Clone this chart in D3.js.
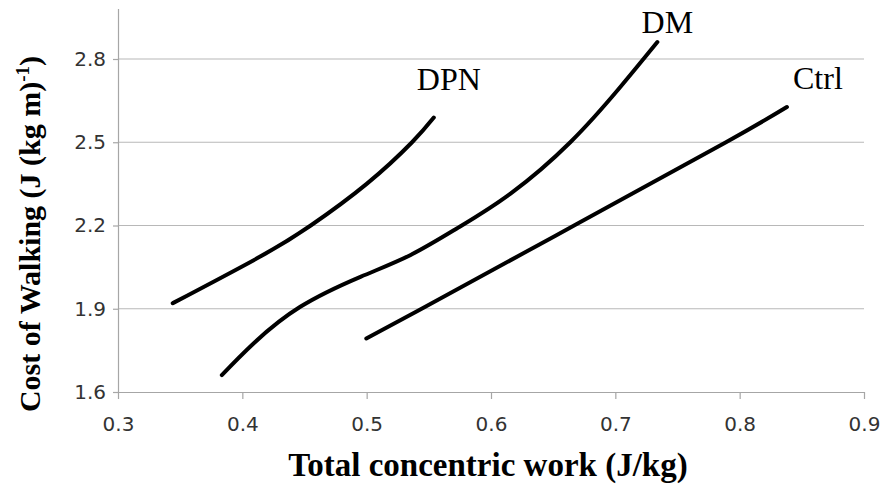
<!DOCTYPE html>
<html lang="en">
<head>
  <meta charset="UTF-8">
  <title>Cost of walking vs concentric work</title>
  <script src="https://d3js.org/d3.v7.min.js"></script>
  <style>
    body { margin: 0; background: #fff; }
  </style>
</head>
<body>
  <div id="chart"></div>

  <script>
    // Axis ticks
    const xTicks = [0.3, 0.4, 0.5, 0.6, 0.7, 0.8, 0.9];
    const yTicks = [1.6, 1.9, 2.2, 2.5, 2.8];

    // Series names
    const seriesNames = ['DPN', 'DM', 'Ctrl'];

    // Curves (x = work J/kg, y = cost J/(kg m))
    const dpnX = [0.344, 0.414, 0.455, 0.500, 0.5365, 0.554];
    const dpnY = [1.920, 2.087, 2.200, 2.350, 2.500, 2.589];

    const dmX = [0.3835, 0.409, 0.4466, 0.495, 0.535, 0.5728, 0.6157, 0.664, 0.704, 0.7338];
    const dmY = [1.661, 1.775, 1.907, 2.015, 2.093, 2.190, 2.315, 2.501, 2.699, 2.861];

    const ctrlX = [0.4997, 0.542, 0.669, 0.789, 0.838];
    const ctrlY = [1.793, 1.895, 2.205, 2.500, 2.627];

    function render() {
      const W = 880, H = 484;
      const svg = d3.select('#chart')
        .append('svg')
        .attr('width', W)
        .attr('height', H);

      const x = d3.scaleLinear().domain([0.3, 0.9]).range([118, 864]);
      const y = d3.scaleLinear().domain([1.6, 2.8]).range([392, 59]);
      const yAxisTop = 2.98;

      // gridlines
      svg.append('g')
        .selectAll('line')
        .data(yTicks.slice(1))
        .join('line')
        .attr('x1', x(0.3))
        .attr('x2', x(0.9))
        .attr('y1', d => y(d))
        .attr('y2', d => y(d))
        .attr('stroke', '#b8b8b8')
        .attr('stroke-width', 1.2);

      // x axis
      const xAxis = svg.append('g')
        .attr('transform', `translate(0,${y(1.6)})`)
        .call(d3.axisBottom(x).tickValues(xTicks).tickSizeInner(7).tickSizeOuter(0)
          .tickPadding(18).tickFormat(d3.format('.1f')));

      // y axis
      const yAxis = svg.append('g')
        .attr('transform', `translate(${x(0.3)},0)`)
        .call(d3.axisLeft(y).tickValues(yTicks).tickSizeInner(5).tickSizeOuter(0)
          .tickPadding(7).tickFormat(d3.format('.1f')));
      yAxis.select('.domain').attr('d', `M0.5,${y(1.6)}V${y(yAxisTop)}`);

      [xAxis, yAxis].forEach(g => {
        g.select('.domain').attr('stroke', '#a6a6a6').attr('stroke-width', 1.2);
        g.selectAll('.tick line').attr('stroke', '#a6a6a6').attr('stroke-width', 1.2);
        g.selectAll('.tick text')
          .attr('fill', '#333')
          .style('font-family', '"DejaVu Sans", Verdana, sans-serif')
          .style('font-size', '20px');
      });

      // curves
      const line = d3.line()
        .x(d => x(d[0]))
        .y(d => y(d[1]))
        .curve(d3.curveNatural);

      const series = [
        { name: seriesNames[0], pts: d3.zip(dpnX, dpnY), dx: 15, dy: -28 },
        { name: seriesNames[1], pts: d3.zip(dmX, dmY), dx: 10, dy: -9 },
        { name: seriesNames[2], pts: d3.zip(ctrlX, ctrlY), dx: 31, dy: -18 }
      ];

      series.forEach(s => {
        svg.append('path')
          .datum(s.pts)
          .attr('d', line)
          .attr('fill', 'none')
          .attr('stroke', '#000')
          .attr('stroke-width', 4)
          .attr('stroke-linecap', 'round')
          .attr('stroke-linejoin', 'round');

        const last = s.pts[s.pts.length - 1];
        svg.append('text')
          .attr('x', x(last[0]) + s.dx)
          .attr('y', y(last[1]) + s.dy)
          .attr('text-anchor', 'middle')
          .attr('fill', '#000')
          .style('font-family', '"Liberation Serif", "Times New Roman", serif')
          .style('font-size', '32px')
          .text(s.name);
      });

      // axis titles
      svg.append('text')
        .attr('x', 488)
        .attr('y', 476)
        .attr('text-anchor', 'middle')
        .style('font-family', '"Liberation Serif", "Times New Roman", serif')
        .style('font-weight', 'bold')
        .style('font-size', '33px')
        .text('Total concentric work (J/kg)');

      const yTitle = svg.append('text')
        .attr('transform', 'translate(40,234) rotate(-90)')
        .attr('text-anchor', 'middle')
        .style('font-family', '"Liberation Serif", "Times New Roman", serif')
        .style('font-weight', 'bold')
        .style('font-size', '30px');
      yTitle.append('tspan').text('Cost of Walking (J (kg m)');
      yTitle.append('tspan').attr('dy', -11).style('font-size', '19px').text('-1');
      yTitle.append('tspan').attr('dy', 11).text(')');
    }

    document.addEventListener('DOMContentLoaded', render);
  </script>
</body>
</html>
